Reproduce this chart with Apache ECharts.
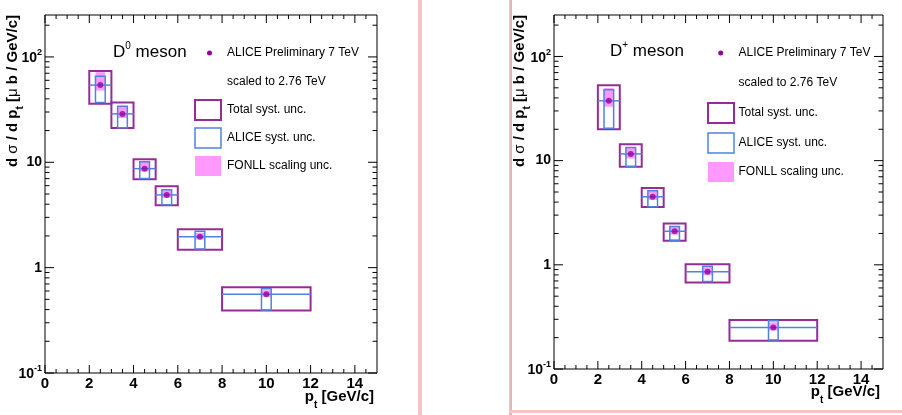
<!DOCTYPE html>
<html><head><meta charset="utf-8">
<script src="https://cdn.jsdelivr.net/npm/echarts@6/dist/echarts.min.js"></script>
<style>html,body{margin:0;padding:0;background:#fff}#c{width:902px;height:415px}</style>
</head><body><div id="c"></div><script>
// ---------- data ----------
const binLow = [2, 3, 4, 5, 6, 8];
const binHigh = [3, 4, 5, 6, 8, 12];
const binCenter = [2.5, 3.5, 4.5, 5.5, 7, 10];

const d0Value = [54, 28.8, 8.7, 4.9, 1.96, 0.56];
const d0TotalLow = [35.9, 21.1, 6.9, 3.91, 1.48, 0.391];
const d0TotalHigh = [73.6, 37, 10.7, 5.93, 2.32, 0.652];
const d0AliceLow = [37, 21.3, 7.0, 3.95, 1.5, 0.397];
const d0AliceHigh = [65.6, 34.1, 10.1, 5.5, 2.21, 0.632];
const d0FonllLow = [48, 26.3, 8.2, 4.6, 1.85, 0.53];
const d0FonllHigh = [71.7, 33.6, 10.2, 5.5, 2.15, 0.61];

const dpValue = [37.5, 11.6, 4.5, 2.1, 0.86, 0.25];
const dpTotalLow = [20, 8.75, 3.58, 1.70, 0.676, 0.187];
const dpTotalHigh = [53, 14.4, 5.45, 2.49, 1.01, 0.296];
const dpAliceLow = [20.5, 8.8, 3.6, 1.72, 0.69, 0.19];
const dpAliceHigh = [47.8, 13.4, 5.14, 2.33, 0.97, 0.29];
const dpFonllLow = [33, 10.5, 4.2, 1.95, 0.8, 0.235];
const dpFonllHigh = [49.7, 13.2, 5.1, 2.3, 0.95, 0.28];

const xMajorTicks = [0, 2, 4, 6, 8, 10, 12, 14];
const xMinorTicks = [0.5, 1, 1.5, 2.5, 3, 3.5, 4.5, 5, 5.5, 6.5, 7, 7.5, 8.5, 9, 9.5, 10.5, 11, 11.5, 12.5, 13, 13.5, 14.5];
const yMajorTicks = [0.1, 1, 10, 100];
const yMinorTicks = [0.2, 0.3, 0.4, 0.5, 0.6, 0.7, 0.8, 0.9, 2, 3, 4, 5, 6, 7, 8, 9, 20, 30, 40, 50, 60, 70, 80, 90, 200];

const X_MIN = 0, X_MAX = 15, Y_MIN = 0.1, Y_MAX = 250;
const BOX_HALF = 0.22;

// ---------- style ----------
const FONT = "'Liberation Sans',Arial,sans-serif";
const PURPLE = '#962d96', BLUE = '#5082e6', PINK = '#ff99ff', DOT = '#990099';

function rectRender(style) {
  return function (params, api) {
    const a = api.coord([api.value(0), api.value(3)]);
    const b = api.coord([api.value(1), api.value(2)]);
    return {type: 'rect', shape: {x: Math.min(a[0], b[0]), y: Math.min(a[1], b[1]),
      width: Math.abs(b[0] - a[0]), height: Math.abs(b[1] - a[1])}, style: Object.assign({}, style)};
  };
}
function hLineRender(params, api) {
  const a = api.coord([api.value(0), api.value(2)]);
  const b = api.coord([api.value(1), api.value(2)]);
  return {type: 'line', shape: {x1: a[0], y1: a[1], x2: b[0], y2: b[1]}, style: {stroke: BLUE, lineWidth: 1.5}};
}
function xTickRender(len) {
  return function (params, api) {
    const v = api.value(0);
    const b = api.coord([v, Y_MIN]), t = api.coord([v, Y_MAX]);
    return {type: 'group', children: [
      {type: 'line', shape: {x1: b[0], y1: b[1], x2: b[0], y2: b[1] - len}, style: {stroke: '#000', lineWidth: 1}},
      {type: 'line', shape: {x1: t[0], y1: t[1], x2: t[0], y2: t[1] + len}, style: {stroke: '#000', lineWidth: 1}}]};
  };
}
function yTickRender(len) {
  return function (params, api) {
    const v = api.value(1);
    const l = api.coord([X_MIN, v]), r = api.coord([X_MAX, v]);
    return {type: 'group', children: [
      {type: 'line', shape: {x1: l[0], y1: l[1], x2: l[0] + len, y2: l[1]}, style: {stroke: '#000', lineWidth: 1}},
      {type: 'line', shape: {x1: r[0], y1: r[1], x2: r[0] - len, y2: r[1]}, style: {stroke: '#000', lineWidth: 1}}]};
  };
}

function panelSeries(g, val, totLo, totHi, aliLo, aliHi, fonLo, fonHi) {
  const ax = {xAxisIndex: g, yAxisIndex: g};
  const fonData = binCenter.map((c, i) => [c - BOX_HALF, c + BOX_HALF, fonLo[i], fonHi[i]]);
  const totData = binCenter.map((c, i) => [binLow[i], binHigh[i], totLo[i], totHi[i]]);
  const aliData = binCenter.map((c, i) => [c - BOX_HALF, c + BOX_HALF, aliLo[i], aliHi[i]]);
  const lineData = binCenter.map((c, i) => [binLow[i], binHigh[i], val[i]]);
  const ptData = binCenter.map((c, i) => [c, val[i]]);
  return [
    Object.assign({type: 'custom', renderItem: rectRender({fill: PINK}), data: fonData, encode: {x: [0, 1], y: [2, 3]}, silent: true}, ax),
    Object.assign({type: 'custom', renderItem: rectRender({fill: 'none', stroke: PURPLE, lineWidth: 2}), data: totData, encode: {x: [0, 1], y: [2, 3]}, silent: true}, ax),
    Object.assign({type: 'custom', renderItem: rectRender({fill: 'none', stroke: BLUE, lineWidth: 1.5}), data: aliData, encode: {x: [0, 1], y: [2, 3]}, silent: true}, ax),
    Object.assign({type: 'custom', renderItem: hLineRender, data: lineData, encode: {x: [0, 1], y: 2}, silent: true}, ax),
    Object.assign({type: 'scatter', data: ptData, symbol: 'circle', symbolSize: 6, itemStyle: {color: DOT}, silent: true, z: 5}, ax),
    Object.assign({type: 'custom', renderItem: xTickRender(8), data: xMajorTicks.map(v => [v, Y_MIN]), encode: {x: 0, y: 1}, clip: false, silent: true}, ax),
    Object.assign({type: 'custom', renderItem: xTickRender(4), data: xMinorTicks.map(v => [v, Y_MIN]), encode: {x: 0, y: 1}, clip: false, silent: true}, ax),
    Object.assign({type: 'custom', renderItem: yTickRender(9), data: yMajorTicks.map(v => [X_MIN, v]), encode: {x: 0, y: 1}, clip: false, silent: true}, ax),
    Object.assign({type: 'custom', renderItem: yTickRender(4.5), data: yMinorTicks.map(v => [X_MIN, v]), encode: {x: 0, y: 1}, clip: false, silent: true}, ax)
  ];
}

function xAxisCfg(g) {
  return {gridIndex: g, type: 'value', min: X_MIN, max: X_MAX, interval: 2,
    axisLine: {show: false}, axisTick: {show: false}, splitLine: {show: false},
    axisLabel: {margin: 3, fontFamily: FONT, fontWeight: 'bold', fontSize: 15, color: '#000',
      formatter: v => (v > 14.5 ? '' : String(v))}};
}
function yAxisCfg(g) {
  return {gridIndex: g, type: 'log', logBase: 10, min: Y_MIN, max: Y_MAX,
    axisLine: {show: false}, axisTick: {show: false}, splitLine: {show: false}, minorTick: {show: false},
    axisLabel: {margin: 3, color: '#000', fontFamily: FONT, fontWeight: 'bold', fontSize: 14,
      formatter: function (v) {
        const e = Math.log10(v), r = Math.round(e);
        if (Math.abs(e - r) > 1e-6) return '';
        if (r === 0) return '1';
        if (r === 1) return '10';
        return '{b|10}{s|' + r + '}';
      },
      rich: {
        b: {fontFamily: FONT, fontWeight: 'bold', fontSize: 14, lineHeight: 17, verticalAlign: 'bottom', color: '#000'},
        s: {fontFamily: FONT, fontWeight: 'bold', fontSize: 9, verticalAlign: 'top', color: '#000'}
      }}};
}

const titleRich = {
  b: {fontFamily: FONT, fontWeight: 'bold', fontSize: 15, verticalAlign: 'top', color: '#000'},
  g: {fontFamily: FONT, fontWeight: 'normal', fontSize: 15, verticalAlign: 'top', color: '#000'},
  t: {fontFamily: FONT, fontWeight: 'bold', fontSize: 10, lineHeight: 20, verticalAlign: 'bottom', color: '#000'}
};
const xTitleRich = {
  b: {fontFamily: FONT, fontWeight: 'bold', fontSize: 15, verticalAlign: 'top', color: '#000'},
  t: {fontFamily: FONT, fontWeight: 'bold', fontSize: 10, lineHeight: 21, verticalAlign: 'bottom', color: '#000'}
};
const legRich = {
  m: {fontFamily: FONT, fontSize: 17, lineHeight: 20, verticalAlign: 'bottom', color: '#000'},
  s: {fontFamily: FONT, fontSize: 10, verticalAlign: 'top', color: '#000'}
};

function txt(x, y, text, size) {
  return {type: 'text', x: x, y: y, style: {text: text, fontFamily: FONT, fontSize: size, fill: '#000', textVerticalAlign: 'middle'}};
}
function legendGroup(p) {
  return [
    {type: 'text', x: p.mx, y: p.my, style: {text: '{m|D}{s|' + p.sup + '}{m| meson}', rich: legRich, textVerticalAlign: 'middle'}},
    {type: 'circle', shape: {cx: p.dx, cy: p.rows[0], r: 2.5}, style: {fill: DOT}},
    txt(p.tx, p.rows[0], 'ALICE Preliminary 7 TeV', 12),
    txt(p.tx, p.rows[1], 'scaled to 2.76 TeV', 12),
    {type: 'rect', shape: {x: p.bx, y: p.rows[2] - 10, width: 26, height: 20}, style: {fill: 'none', stroke: PURPLE, lineWidth: 2}},
    txt(p.tx, p.rows[2], 'Total syst. unc.', 12),
    {type: 'rect', shape: {x: p.bx, y: p.rows[3] - 10, width: 26, height: 20}, style: {fill: 'none', stroke: BLUE, lineWidth: 1.5}},
    txt(p.tx, p.rows[3], 'ALICE syst. unc.', 12),
    {type: 'rect', shape: {x: p.bx, y: p.rows[4] - 10, width: 26, height: 20}, style: {fill: PINK}},
    txt(p.tx, p.rows[4], 'FONLL scaling unc.', 12)
  ];
}
function axisTitles(yx, xr, xy) {
  return [
    {type: 'text', x: yx, y: 15, rotation: Math.PI / 2,
      style: {text: '{b|d }{g|σ}{b| / d p}{t|t}{b| [}{g|μ}{b| b / GeV/c]}', rich: titleRich, align: 'right', textVerticalAlign: 'middle'}},
    {type: 'text', x: xr, y: xy,
      style: {text: '{b|p}{t|t}{b| [GeV/c]}', rich: xTitleRich, align: 'right', textVerticalAlign: 'middle'}}
  ];
}

const chart = echarts.init(document.getElementById('c'), null, {renderer: 'canvas'});
chart.setOption({
  animation: false,
  backgroundColor: '#fff',
  grid: [
    {left: 45, top: 15, width: 332, height: 358, show: true, borderColor: '#000', borderWidth: 1, backgroundColor: 'transparent'},
    {left: 554, top: 15, width: 329, height: 354, show: true, borderColor: '#000', borderWidth: 1, backgroundColor: 'transparent'}
  ],
  xAxis: [xAxisCfg(0), xAxisCfg(1)],
  yAxis: [yAxisCfg(0), yAxisCfg(1)],
  series: [].concat(
    panelSeries(0, d0Value, d0TotalLow, d0TotalHigh, d0AliceLow, d0AliceHigh, d0FonllLow, d0FonllHigh),
    panelSeries(1, dpValue, dpTotalLow, dpTotalHigh, dpAliceLow, dpAliceHigh, dpFonllLow, dpFonllHigh)
  ),
  graphic: [].concat(
    [{type: 'rect', shape: {x: 418, y: 0, width: 4, height: 415}, style: {fill: '#f6c4c4'}},
     {type: 'rect', shape: {x: 509, y: 0, width: 3, height: 415}, style: {fill: '#f3c6c6'}},
     {type: 'rect', shape: {x: 510.5, y: 0, width: 1, height: 415}, style: {fill: '#c9a9a9'}},
     {type: 'rect', shape: {x: 510, y: 410, width: 392, height: 3}, style: {fill: '#f6c4c4'}}],
    legendGroup({mx: 113, my: 51, sup: '0', dx: 209.5, tx: 227, bx: 195, rows: [53, 82, 110, 138, 166]}),
    legendGroup({mx: 610, my: 50, sup: '+', dx: 720.7, tx: 738.5, bx: 708, rows: [53, 83, 113, 143, 172]}),
    axisTitles(15, 374, 400),
    axisTitles(522, 880, 395)
  )
});
</script></body></html>
